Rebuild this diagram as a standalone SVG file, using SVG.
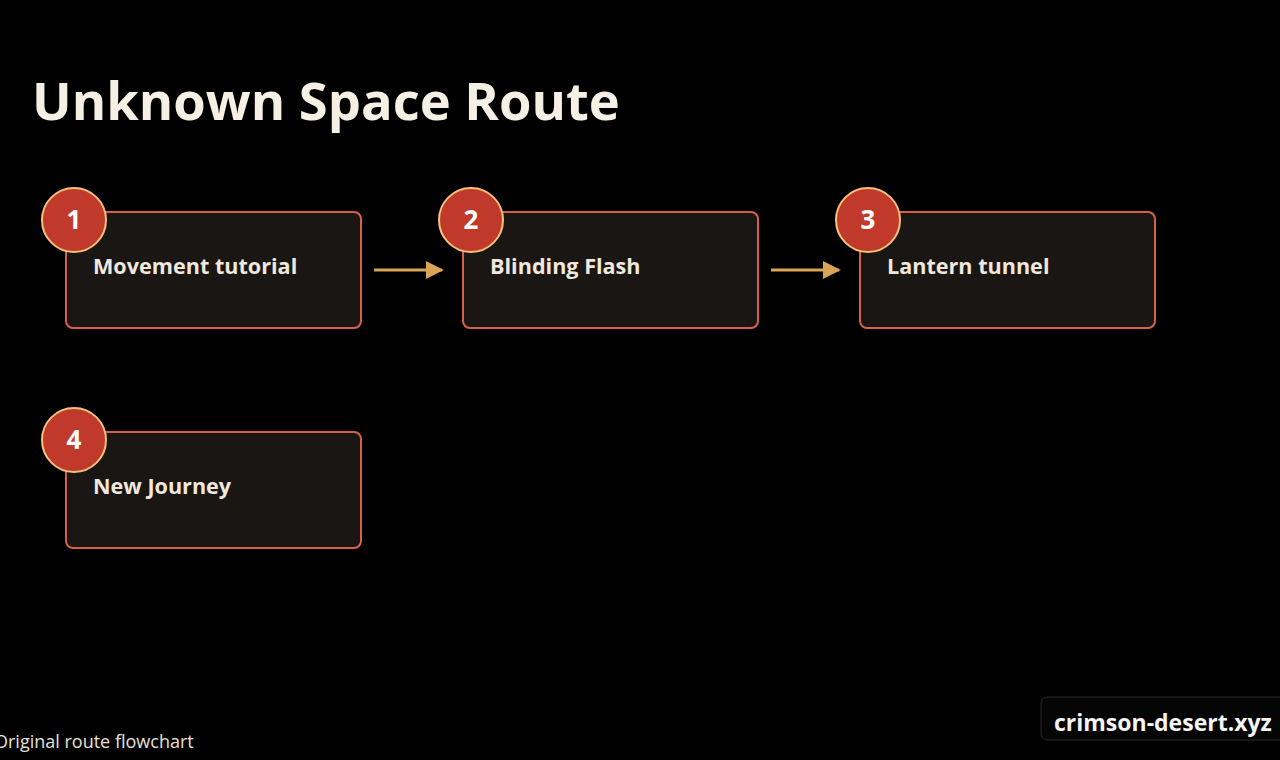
<svg xmlns="http://www.w3.org/2000/svg" width="1280" height="760" viewBox="0 0 1280 760">
<defs>
<style>
.box{fill:#1a1614;stroke:#d8604a;stroke-width:2}
.badge{fill:#c0392b;stroke:#f2c27a;stroke-width:2}
.num{font-family:"Open Sans","DejaVu Sans",sans-serif;font-weight:bold;font-size:26px;fill:#fff;text-anchor:middle}
.lbl{font-family:"Open Sans","DejaVu Sans",sans-serif;font-weight:bold;font-size:21.6px;fill:#f0e8dc}
.conn{stroke:#d9a455;stroke-width:3;fill:none}
</style>
<marker id="ah" viewBox="0 0 10 10" refX="9" refY="5" markerWidth="6" markerHeight="6" orient="auto"><path d="M0,0L10,5L0,10z" fill="#d9a455"/></marker>
</defs>
<rect width="1280" height="760" fill="#000"/>
<text x="32" y="120" font-family="'Open Sans','DejaVu Sans',sans-serif" font-weight="bold" font-size="52.5" fill="#f5efe4">Unknown Space Route</text>
<g id="connectors">
<line class="conn" x1="374" y1="270" x2="442" y2="270" marker-end="url(#ah)"/>
<line class="conn" x1="771" y1="270" x2="839" y2="270" marker-end="url(#ah)"/>
</g>
<g id="n1"><rect class="box" x="66" y="212" width="295" height="116" rx="7"/><circle class="badge" cx="74" cy="220" r="32"/><text class="num" x="74" y="229">1</text><text class="lbl" x="93" y="274">Movement tutorial</text></g>
<g id="n2"><rect class="box" x="463" y="212" width="295" height="116" rx="7"/><circle class="badge" cx="471" cy="220" r="32"/><text class="num" x="471" y="229">2</text><text class="lbl" x="490" y="274">Blinding Flash</text></g>
<g id="n3"><rect class="box" x="860" y="212" width="295" height="116" rx="7"/><circle class="badge" cx="868" cy="220" r="32"/><text class="num" x="868" y="229">3</text><text class="lbl" x="887" y="274">Lantern tunnel</text></g>
<g id="n4"><rect class="box" x="66" y="432" width="295" height="116" rx="7"/><circle class="badge" cx="74" cy="440" r="32"/><text class="num" x="74" y="449">4</text><text class="lbl" x="93" y="494">New Journey</text></g>
<text x="-6" y="748" font-family="'Open Sans','DejaVu Sans',sans-serif" font-size="18" fill="#e8e0d4">Original route flowchart</text>
<rect x="1041" y="697" width="250" height="43" rx="6" fill="#050505" stroke="#2a2a2a"/>
<text x="1054" y="731" font-family="'Open Sans','DejaVu Sans',sans-serif" font-weight="bold" font-size="23" fill="#f5f5f5">crimson-desert.xyz</text>
</svg>
